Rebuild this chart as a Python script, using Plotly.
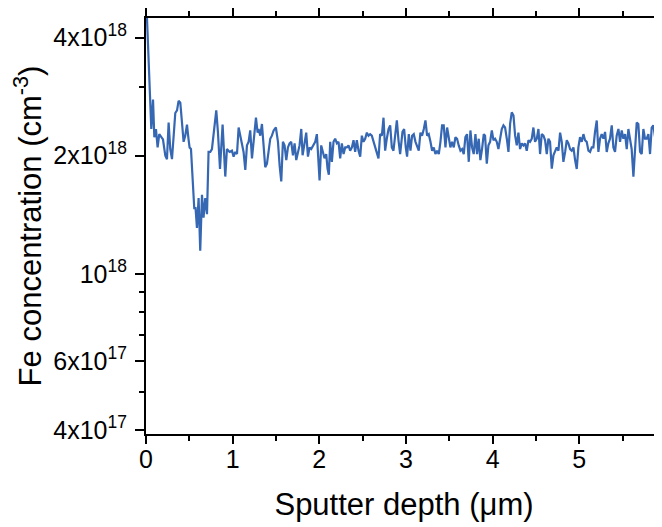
import plotly.graph_objects as go

# SIMS depth profile: depth in um, Fe concentration in units of 1e18 cm^-3
depth = [
    0.000, 0.012, 0.030, 0.061, 0.081, 0.096, 0.115, 0.134, 0.153, 0.173,
    0.196, 0.223, 0.242, 0.261, 0.280, 0.300, 0.318, 0.338, 0.358, 0.376,
    0.396, 0.415, 0.434, 0.453, 0.473, 0.491, 0.503, 0.519, 0.537, 0.557,
    0.572, 0.588, 0.607, 0.626, 0.646, 0.664, 0.684, 0.704, 0.722, 0.742,
    0.761, 0.788, 0.811, 0.830, 0.854, 0.884, 0.915, 0.934, 0.964,
    0.992, 1.011, 1.030, 1.050, 1.069, 1.088, 1.107, 1.126, 1.146, 1.165,
    1.184, 1.203, 1.223, 1.242, 1.253, 1.269, 1.288, 1.299, 1.319, 1.338,
    1.357, 1.376, 1.396, 1.415, 1.434, 1.453, 1.473, 1.499, 1.523, 1.542,
    1.561, 1.580, 1.599, 1.619, 1.638, 1.657, 1.676, 1.696, 1.715, 1.734,
    1.753, 1.772, 1.792, 1.807, 1.826, 1.849, 1.869, 1.888, 1.907, 1.934,
    1.953,
    1.972, 2.003, 2.022, 2.041, 2.060, 2.080, 2.095, 2.110, 2.126, 2.145,
    2.164, 2.183, 2.203, 2.222, 2.241, 2.260, 2.280, 2.299, 2.318, 2.337,
    2.356, 2.376, 2.395, 2.414, 2.433, 2.453, 2.472, 2.491, 2.510, 2.529,
    2.549, 2.568, 2.587, 2.606, 2.626, 2.645, 2.664, 2.683, 2.702, 2.722,
    2.741, 2.760, 2.779, 2.799, 2.818, 2.837, 2.856, 2.876, 2.895, 2.914,
    2.933,
    2.960, 2.979, 2.998, 3.013, 3.033, 3.052, 3.071, 3.090, 3.110, 3.129,
    3.148, 3.167, 3.186, 3.206, 3.225, 3.244, 3.263, 3.283, 3.302, 3.321,
    3.340, 3.359, 3.379, 3.398, 3.417, 3.436, 3.456, 3.475, 3.494, 3.513,
    3.532, 3.552, 3.571, 3.590, 3.609, 3.629, 3.648, 3.667, 3.686, 3.705,
    3.725, 3.744, 3.763, 3.782, 3.802, 3.821, 3.840, 3.859, 3.878, 3.898,
    3.913,
    3.933, 3.952, 3.971, 3.991, 4.010, 4.029, 4.048, 4.067, 4.087, 4.106,
    4.125, 4.144, 4.164, 4.183, 4.202, 4.221, 4.241, 4.260, 4.279, 4.298,
    4.317, 4.337, 4.356, 4.375, 4.394, 4.414, 4.433, 4.452, 4.471, 4.490,
    4.510, 4.529, 4.548, 4.567, 4.587, 4.606, 4.625, 4.644, 4.663, 4.683,
    4.702, 4.721, 4.740, 4.760, 4.779, 4.798, 4.817, 4.837, 4.856, 4.875,
    4.894,
    4.913, 4.933, 4.952, 4.971, 4.990, 5.009, 5.029, 5.048, 5.067, 5.086,
    5.106, 5.125, 5.144, 5.163, 5.182, 5.202, 5.221, 5.240, 5.259, 5.279,
    5.298, 5.317, 5.336, 5.355, 5.375, 5.394, 5.413, 5.432, 5.452, 5.471,
    5.490, 5.509, 5.529, 5.548, 5.567, 5.586, 5.605, 5.625, 5.644, 5.663,
    5.682, 5.702, 5.721, 5.740, 5.759, 5.779, 5.798, 5.817, 5.836, 5.855,
    5.875, 5.894, 5.913,
]

fe_conc = [
    5.20, 4.47, 3.31, 2.34, 2.78, 2.23, 2.34, 2.10, 2.27, 2.23,
    2.20, 2.00, 1.96, 2.43, 2.08, 1.96, 2.20, 2.57, 2.61, 2.76,
    2.73, 2.48, 2.17, 2.25, 2.40, 2.20, 2.10, 2.08, 1.75, 1.47,
    1.47, 1.31, 1.56, 1.145, 1.59, 1.39, 1.56, 1.42, 2.045, 2.045,
    2.08, 2.39, 2.61, 2.30, 1.85, 2.40, 1.77, 2.08, 2.045,
    2.06, 1.99, 2.045, 2.02, 2.36, 2.25, 2.17, 2.045, 1.84, 2.125,
    2.17, 2.32, 1.97, 2.17, 2.25, 2.50, 2.29, 2.34, 2.25, 2.41,
    2.125, 1.87, 1.91, 2.045, 2.21, 2.25, 2.32, 2.36, 2.17, 1.89,
    1.72, 2.17, 2.125, 1.95, 2.10, 2.15, 2.17, 2.005, 2.15, 1.95,
    2.06, 2.125, 2.34, 2.005, 2.125, 2.29, 1.99, 2.10, 2.08, 2.125,
    2.17,
    2.27, 1.73, 2.125, 2.06, 1.97, 2.02, 1.855, 1.79, 2.17, 1.93,
    2.17, 2.21, 2.15, 2.17, 1.97, 2.15, 2.02, 2.10, 2.10, 2.125,
    2.06, 2.10, 2.19, 2.045, 2.19, 2.06, 1.99, 2.25, 2.17, 2.21,
    2.29, 2.25, 2.27, 2.25, 2.17, 2.10, 2.02, 1.97, 2.27, 2.25,
    2.50, 2.06, 2.21, 2.34, 2.39, 2.10, 2.06, 2.29, 2.46, 2.19,
    2.02,
    2.30, 2.34, 2.10, 1.99, 2.27, 2.06, 2.25, 2.27, 2.17, 2.10,
    2.06, 2.29, 2.25, 2.34, 2.46, 2.25, 2.27, 2.17, 2.06, 2.10,
    2.02, 2.06, 2.02, 2.17, 2.39, 2.39, 2.10, 2.36, 2.21, 2.10,
    2.17, 2.10, 2.23, 2.21, 2.125, 2.06, 2.08, 2.02, 2.23, 2.27,
    1.93, 2.32, 2.10, 2.02, 2.27, 2.02, 2.21, 1.95, 2.08, 2.27,
    2.25,
    1.91, 2.125, 2.17, 2.32, 2.19, 2.21, 2.17, 2.08, 2.21, 2.34,
    2.39, 2.36, 2.21, 2.045, 2.41, 2.58, 2.53, 2.25, 2.125, 2.29,
    2.08, 2.15, 2.125, 2.15, 2.06, 2.19, 2.17, 2.21, 2.36, 2.17,
    2.21, 2.34, 2.02, 2.27, 2.25, 2.19, 2.02, 2.21, 2.17, 1.855,
    2.005, 2.06, 2.10, 2.06, 2.29, 2.17, 1.93, 2.045, 2.19, 2.15,
    2.08,
    2.06, 2.10, 1.95, 1.85, 2.10, 2.23, 2.17, 2.27, 2.19, 2.17,
    2.06, 2.045, 2.10, 2.10, 2.30, 2.46, 2.045, 2.21, 2.27, 2.21,
    2.30, 2.045, 2.15, 2.21, 2.39, 2.10, 2.045, 2.25, 2.34, 2.17,
    2.32, 2.21, 2.27, 2.08, 2.34, 2.21, 2.08, 1.77, 2.08, 2.43,
    2.41, 2.045, 2.02, 2.34, 2.21, 2.21, 2.27, 2.02, 2.36, 2.39,
    2.23, 2.08, 1.99,
]

y_tickvals = [0.4, 0.6, 1, 2, 4]
y_ticktext = ["4x10<sup>17</sup>", "6x10<sup>17</sup>", "10<sup>18</sup>",
              "2x10<sup>18</sup>", "4x10<sup>18</sup>"]
y_minorvals = [0.5, 0.7, 0.8, 0.9, 3]

font = "Liberation Sans, Arial, sans-serif"

fig = go.Figure()
fig.add_trace(go.Scatter(
    x=depth, y=fe_conc, mode="lines",
    line=dict(color="#3667b3", width=2.2),
    showlegend=False,
))

# page body adds an 8px offset; the plot area reaches the right edge with no right spine
fig.update_layout(
    width=654, height=527,
    margin=dict(l=138, r=0, t=7, b=101),
    paper_bgcolor="white", plot_bgcolor="white",
    font=dict(family=font, color="black"),
)

fig.update_xaxes(
    range=[0, 5.955],
    showline=True, linecolor="black", linewidth=2, mirror="ticks",
    ticks="outside", ticklen=8, tickwidth=2, tickcolor="black",
    dtick=1, tick0=0,
    minor=dict(dtick=0.5, ticks="outside", ticklen=5, tickwidth=2, tickcolor="black"),
    showgrid=False, zeroline=False,
    tickfont=dict(size=25), ticklabelstandoff=-6,
    title=dict(text="Sputter depth (μm)", font=dict(size=31), standoff=21),
)

fig.update_yaxes(
    type="log", range=[-0.408, 0.652],
    showline=True, linecolor="black", linewidth=2, mirror=False,
    ticks="outside", ticklen=9, tickwidth=2, tickcolor="black",
    tickmode="array", tickvals=y_tickvals, ticktext=y_ticktext,
    minor=dict(tickmode="array", tickvals=y_minorvals, ticks="outside",
               ticklen=5, tickwidth=2, tickcolor="black"),
    showgrid=False, zeroline=False,
    tickfont=dict(size=25), ticklabelstandoff=3,
    title=dict(text="Fe concentration (cm<sup>-3</sup>)", font=dict(size=31), standoff=8),
)

fig.write_html("out.html")
